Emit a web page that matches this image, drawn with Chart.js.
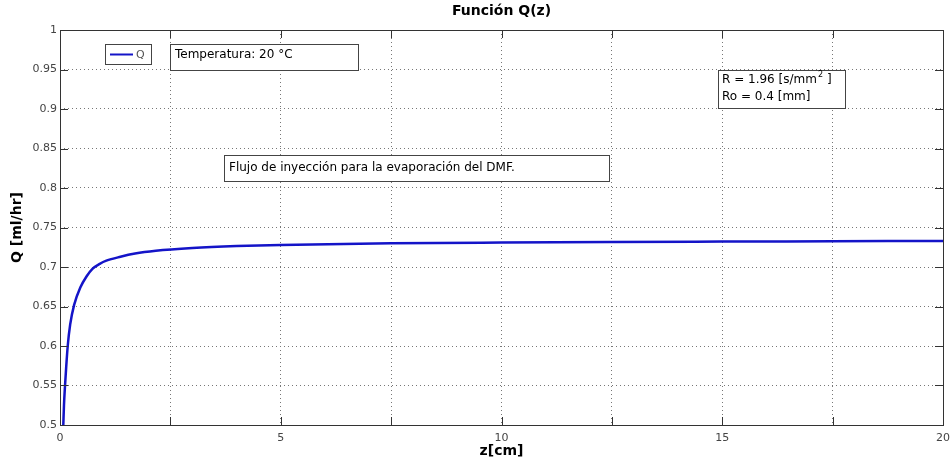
<!DOCTYPE html>
<html>
<head>
<meta charset="utf-8">
<script src="https://cdn.jsdelivr.net/npm/chart.js@4/dist/chart.umd.min.js"></script>
<style>
  body { margin: 0; background: #fff; }
  canvas { display: block; }
</style>
</head>
<body>
<canvas id="qChart" width="950" height="459"></canvas>
<script>
// values (z in cm, Q in ml/hr)
const zValues = [0.075, 0.09, 0.114, 0.14, 0.175, 0.23, 0.32, 0.46, 0.6, 0.74, 0.9, 1.05, 1.37, 1.7, 2.17, 3, 4, 5, 7.5, 10, 12.5, 15, 17.5, 20];
const qValues = [0.5, 0.525, 0.55, 0.573, 0.6, 0.627, 0.652, 0.674, 0.688, 0.698, 0.704, 0.708, 0.713, 0.717, 0.7205, 0.724, 0.7265, 0.728, 0.73, 0.731, 0.7317, 0.7322, 0.7326, 0.733];
const xTickLabels = [0, 5, 10, 15, 20];
const yTickLabels = ["0.5", "0.55", "0.6", "0.65", "0.7", "0.75", "0.8", "0.85", "0.9", "0.95", "1"];

const FONT = "'DejaVu Sans', Verdana, sans-serif";

// box around the axes plus the little inward ticks matlab draws
const framePlugin = {
  id: "frame",
  afterDraw(chart) {
    const ctx = chart.ctx;
    const a = chart.chartArea;
    const xs = chart.scales.x;
    const ys = chart.scales.y;
    ctx.save();
    ctx.strokeStyle = "#333";
    ctx.lineWidth = 1;
    ctx.beginPath();
    xs.ticks.forEach((t) => {
      const px = Math.round(xs.getPixelForValue(t.value)) + 0.5;
      ctx.moveTo(px, a.bottom);
      ctx.lineTo(px, a.bottom - 8);
      ctx.moveTo(px, a.top);
      ctx.lineTo(px, a.top + 8);
    });
    ys.ticks.forEach((t) => {
      const py = Math.round(ys.getPixelForValue(t.value)) + 0.5;
      ctx.moveTo(a.left, py);
      ctx.lineTo(a.left + 8, py);
      ctx.moveTo(a.right, py);
      ctx.lineTo(a.right - 8, py);
    });
    ctx.stroke();
    ctx.strokeRect(Math.round(a.left) + 0.5, Math.round(a.top) + 0.5, Math.round(a.right - a.left), Math.round(a.bottom - a.top));

    // title centred over the axes, like matlab
    ctx.fillStyle = "#000";
    ctx.font = "bold 14px " + FONT;
    ctx.textAlign = "center";
    ctx.textBaseline = "middle";
    ctx.fillText("Función Q(z)", (a.left + a.right) / 2, 11);
    ctx.restore();
  },
};

// text boxes and legend
function textBox(ctx, x, y, w, h) {
  ctx.fillStyle = "#fff";
  ctx.fillRect(x, y, w, h);
  ctx.strokeStyle = "#444";
  ctx.lineWidth = 1;
  ctx.strokeRect(x + 0.5, y + 0.5, w, h);
}

const notesPlugin = {
  id: "notes",
  afterDraw(chart) {
    const ctx = chart.ctx;
    ctx.save();
    ctx.textBaseline = "middle";
    ctx.textAlign = "left";

    // legend
    textBox(ctx, 105, 44, 46, 20);
    ctx.strokeStyle = "#1414c8";
    ctx.lineWidth = 2;
    ctx.beginPath();
    ctx.moveTo(110, 54.5);
    ctx.lineTo(133, 54.5);
    ctx.stroke();
    ctx.fillStyle = "#555";
    ctx.font = "11px " + FONT;
    ctx.fillText("Q", 136, 55);

    ctx.font = "12px " + FONT;
    textBox(ctx, 170, 44, 188, 26);
    ctx.fillStyle = "#000";
    ctx.fillText("Temperatura: 20 °C", 175, 55);

    textBox(ctx, 718, 70, 127, 38);
    ctx.fillStyle = "#000";
    ctx.fillText("R = 1.96 [s/mm", 722, 80);
    let w = ctx.measureText("R = 1.96 [s/mm").width;
    ctx.font = "8px " + FONT;
    ctx.fillText("2", 722 + w + 1, 75);
    ctx.font = "12px " + FONT;
    ctx.fillText("]", 722 + w + 10, 80);
    ctx.fillText("Ro = 0.4 [mm]", 722, 97);

    textBox(ctx, 224, 155, 385, 26);
    ctx.fillStyle = "#000";
    ctx.fillText("Flujo de inyección para la evaporación del DMF.", 229, 168);
    ctx.restore();
  },
};

const points = zValues.map((z, i) => ({ x: z, y: qValues[i] }));

new Chart(document.getElementById("qChart"), {
  type: "line",
  data: {
    datasets: [
      {
        label: "Q",
        data: points,
        borderColor: "#1414c8",
        borderWidth: 2.5,
        pointRadius: 0,
        cubicInterpolationMode: "monotone",
        fill: false,
      },
    ],
  },
  options: {
    responsive: false,
    animation: false,
    devicePixelRatio: 1,
    layout: { padding: { right: 7, left: 0, top: 30, bottom: 0 } },
    plugins: {
      legend: { display: false },
      tooltip: { enabled: false },
      title: { display: false },
    },
    scales: {
      x: {
        type: "linear",
        min: 0,
        max: 20,
        afterFit: (scale) => {
          scale.height = 34;
          scale.paddingLeft = 0;
          scale.paddingRight = 0;
        },
        afterBuildTicks: (scale) => {
          scale.ticks = [];
          for (let v = 0; v <= 20; v += 2.5) scale.ticks.push({ value: v });
        },
        ticks: {
          autoSkip: false,
          maxRotation: 0,
          padding: 7,
          color: "#444",
          font: { family: FONT, size: 11 },
          callback: (v) => (xTickLabels.includes(v) ? String(v) : ""),
        },
        grid: { color: "#777", drawTicks: false },
        border: { display: false, dash: [1, 3] },
        title: {
          display: true,
          text: "z[cm]",
          color: "#000",
          font: { family: FONT, size: 14, weight: "bold" },
          padding: { top: 0, bottom: -1 },
        },
      },
      y: {
        type: "linear",
        min: 0.5,
        max: 1,
        afterFit: (scale) => {
          scale.width = 60;
        },
        afterBuildTicks: (scale) => {
          scale.ticks = yTickLabels.map((s) => ({ value: parseFloat(s) }));
        },
        ticks: {
          padding: 3,
          color: "#444",
          font: { family: FONT, size: 11 },
          callback: (v, i) => yTickLabels[i],
        },
        grid: { color: "#777", drawTicks: false },
        border: { display: false, dash: [1, 3] },
        title: {
          display: true,
          text: "Q [ml/hr]",
          color: "#000",
          font: { family: FONT, size: 14, weight: "bold" },
          padding: { top: 9, bottom: 0 },
        },
      },
    },
  },
  plugins: [framePlugin, notesPlugin],
});
</script>
</body>
</html>
